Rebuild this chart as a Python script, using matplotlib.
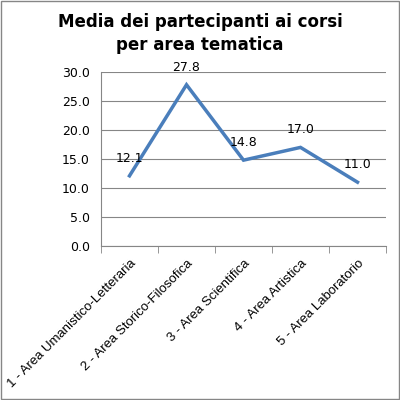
import numpy as np
import matplotlib.pyplot as plt
from matplotlib.patches import Rectangle

# Dati del grafico
categorie = ['1 - Area Umanistico-Letteraria', '2 - Area Storico-Filosofica',
             '3 - Area Scientifica', '4 - Area Artistica', '5 - Area Laboratorio']
medie = [12.1, 27.8, 14.8, 17.0, 11.0]
titolo = 'Media dei partecipanti ai corsi\nper area tematica'

fig = plt.figure(figsize=(4, 4), dpi=100)
fig.patches.append(Rectangle((0.002, 0.002), 0.996, 0.996, transform=fig.transFigure,
                             fill=False, edgecolor='#868686', linewidth=1))
ax = fig.add_axes([0.2525, 0.385, 0.7125, 0.435])

x = np.arange(len(categorie))
ax.plot(x, medie, color='#4A7EBB', linewidth=2.5, solid_joinstyle='miter')
for xi, v in zip(x, medie):
    ax.annotate(f'{v:.1f}', (xi, v), xytext=(0, 8), textcoords='offset points',
                ha='center', va='bottom', fontsize=9)

ax.set_xlim(-0.5, len(categorie) - 0.5)
ax.set_ylim(0, 30)
ax.set_yticks(np.arange(0, 31, 5))
ax.set_yticklabels([f'{t:.1f}' for t in np.arange(0, 31, 5)], fontsize=9)
ax.yaxis.grid(True, color='#868686', linewidth=0.8)
ax.set_axisbelow(True)
ax.tick_params(axis='y', length=0, pad=8)

ax.set_xticks(x)
ax.set_xticklabels(categorie, rotation=45, ha='right', rotation_mode='anchor',
                   fontsize=9.5, family='Liberation Sans')
ax.set_xticks(np.arange(-0.5, len(categorie)), minor=True)
ax.tick_params(axis='x', which='major', length=0, pad=8)
ax.tick_params(axis='x', which='minor', length=5, color='#868686', direction='out')

for s in ['top', 'right']:
    ax.spines[s].set_visible(False)
ax.spines['left'].set_color('#868686')
ax.spines['bottom'].set_color('#868686')

fig.text(0.5, 0.968, titolo, ha='center', va='top', fontsize=12, fontweight='bold',
         linespacing=1.35)

fig.savefig('out.png', dpi=100)
